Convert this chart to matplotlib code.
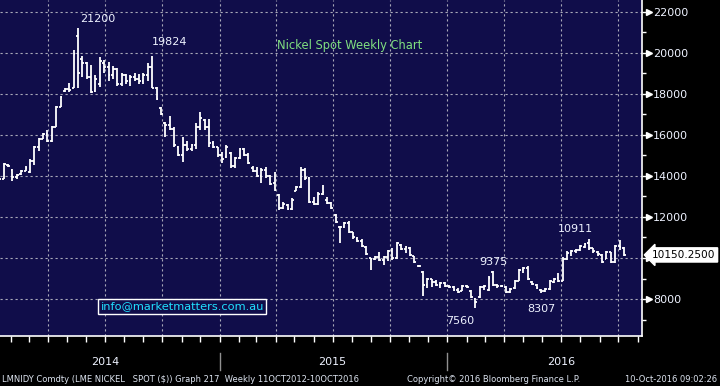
import matplotlib
matplotlib.use("Agg")
import matplotlib.pyplot as plt
import matplotlib.dates as mdates
import matplotlib.transforms as mtransforms
import numpy as np
import pandas as pd

# ---------------- data (weekly OHLC, LME nickel spot) ----------------
opens = [13450, 13850, 14550, 14300, 13950, 14100, 14250, 14200, 14750, 15400,
         15800, 16050, 15700, 16400, 17350, 18150, 18250, 18300, 20800, 19700,
         19500, 18800, 18150, 18500, 19500, 19300, 18900, 19200, 18500, 18900,
         18600, 18800, 18700, 18600, 18900, 19300, 18300, 17300, 16600, 16500,
         16300, 15400, 15000, 15500, 15300, 15500, 16400, 16700, 16400, 15600,
         15400, 15000, 14900, 15100, 14500, 14850, 15300, 15000, 14400, 14250,
         14000, 14300, 14000, 13650, 13050, 12450, 12600, 12400, 13250, 13450,
         14300, 13900, 12750, 12650, 13100, 12850, 12700, 12100, 11500, 11500,
         11700, 11250, 10950, 10850, 10550, 10000, 9950, 10050, 9900, 10050,
         10350, 10000, 10650, 10450, 10500, 10100, 9600, 9300, 8700, 9000,
         8850, 8700, 8800, 8650, 8600, 8450, 8400, 8650, 8400, 8000,
         8100, 8600, 8450, 9300, 8700, 8650, 8600, 8350, 8550, 8900,
         9400, 9500, 8850, 8700, 8450, 8400, 8500, 8850, 9050, 8900,
         9950, 10250, 10350, 10400, 10550, 10750, 10500, 10300, 10150, 9950,
         10300, 9800, 10600, 10500]
highs = [13850, 14650, 14600, 14350, 14100, 14300, 14500, 14800, 15450, 15850,
         16100, 16250, 16450, 17400, 17900, 18300, 18550, 20150, 21200, 19850,
         19550, 19400, 18900, 19800, 19650, 19550, 19350, 19250, 19000, 18950,
         18900, 19000, 18950, 19000, 19500, 19824, 18350, 17350, 16650, 16900,
         16400, 15450, 15900, 15700, 15550, 16600, 17100, 16750, 16750, 15700,
         15400, 15150, 15500, 15150, 14900, 15350, 15350, 15100, 14500, 14450,
         14400, 14450, 14050, 14200, 13100, 12750, 12650, 12900, 13500, 14450,
         14400, 13950, 12950, 13200, 13550, 12950, 12750, 12150, 11550, 11750,
         11800, 11250, 11000, 10950, 10600, 10000, 10100, 10300, 10100, 10400,
         10500, 10800, 10700, 10600, 10550, 10100, 9650, 9350, 9050, 9000,
         8950, 8850, 8850, 8700, 8650, 8550, 8700, 8700, 8450, 8050,
         8620, 8700, 9110, 9375, 8720, 8700, 8620, 8550, 8950, 9450,
         9550, 9600, 8870, 8750, 8470, 8550, 8950, 9050, 9270, 10050,
         10320, 10400, 10450, 10650, 10750, 10911, 10500, 10350, 10200, 10350,
         10300, 10650, 10900, 10550]
lows = [13400, 13850, 14450, 13750, 13850, 14050, 14250, 14150, 14550, 15200,
        15800, 15650, 15650, 16400, 17350, 18100, 18100, 18300, 18300, 18800,
        18700, 18050, 18100, 18350, 19000, 18600, 18700, 18400, 18400, 18500,
        18400, 18600, 18500, 18500, 18600, 18300, 17700, 16950, 15900, 16250,
        15400, 14950, 14700, 15200, 15200, 15300, 16250, 16250, 15400, 15350,
        14900, 14650, 14850, 14400, 14400, 14800, 14950, 14600, 14200, 13950,
        13650, 13900, 13550, 13250, 12350, 12400, 12350, 12350, 13250, 13400,
        13800, 12700, 12600, 12600, 13050, 12650, 12400, 11700, 10750, 11450,
        11200, 10950, 10800, 10550, 10150, 9400, 9900, 9850, 9650, 9850,
        9900, 9950, 10400, 10250, 10100, 9750, 9550, 8150, 8550, 8600,
        8650, 8550, 8600, 8550, 8400, 8300, 8400, 8550, 8050, 7560,
        8050, 8450, 8380, 8620, 8550, 8600, 8300, 8300, 8500, 8900,
        9250, 8950, 8700, 8500, 8307, 8350, 8450, 8800, 8850, 8900,
        9900, 10100, 10250, 10350, 10500, 10400, 10250, 10100, 9750, 9950,
        9750, 9750, 10400, 10100]
closes = [13850, 14600, 14500, 13950, 14050, 14250, 14400, 14750, 15400, 15800,
          16050, 15700, 16400, 17350, 17850, 18250, 18200, 19950, 19000, 19500,
          18800, 18100, 18700, 19600, 19300, 18900, 19200, 18500, 18900, 18600,
          18800, 18700, 18600, 18900, 19300, 18300, 17750, 17000, 16500, 16300,
          15500, 15000, 15500, 15300, 15500, 16400, 16800, 16400, 15600, 15400,
          15000, 14800, 15400, 14500, 14850, 15300, 15000, 14650, 14250, 14000,
          14300, 14000, 13600, 13300, 12450, 12650, 12400, 12850, 13450, 14300,
          13900, 12750, 12650, 13100, 13200, 12700, 12450, 11750, 11500, 11700,
          11250, 11000, 10850, 10600, 10200, 9950, 10050, 9900, 10050, 10350,
          10000, 10750, 10450, 10550, 10150, 9800, 9600, 8700, 9000, 8850,
          8700, 8800, 8650, 8600, 8450, 8350, 8650, 8600, 8100, 7850,
          8600, 8650, 9050, 8700, 8650, 8620, 8350, 8500, 8900, 9400,
          9500, 9000, 8750, 8550, 8400, 8500, 8900, 9000, 8900, 9950,
          10250, 10350, 10400, 10600, 10700, 10500, 10350, 10200, 9800, 10300,
          9800, 10600, 10550, 10150]

dates = pd.date_range("2014-01-13", periods=len(closes), freq="7D")

y_ticks = [8000, 10000, 12000, 14000, 16000, 18000, 20000, 22000]
year_labels = ["2014", "2015", "2016"]
last_price_label = "10150.2500"

# (label, bar index, anchored at high or low)
annotations = [("21200", 18, "high"), ("19824", 35, "high"),
               ("9375", 113, "high"), ("10911", 135, "high"),
               ("7560", 109, "low"), ("8307", 124, "low")]
# label offsets in pixels (style, not data)
ann_offsets = {"21200": (20, 4), "19824": (17, 9), "9375": (0, 4),
               "10911": (-14, 5), "7560": (-15, -8), "8307": (0, -11)}

# ---------------- figure ----------------
BG = "#100d4a"
TXT = "#eef2ff"
fig = plt.figure(figsize=(7.2, 3.86), dpi=100, facecolor="black")
ax = fig.add_axes([0, 1 - 336 / 386, 642 / 720, 336 / 386])
ax.set_facecolor(BG)

x = mdates.date2num(dates)
tw = 3.0  # tick width in days
ax.vlines(x, lows, highs, color="white", lw=1.3, zorder=3)
ax.hlines(opens, x - tw, x, color="white", lw=1.3, zorder=3)
ax.hlines(closes, x, x + tw, color="white", lw=1.3, zorder=3)

ax.set_xlim(mdates.date2num(pd.Timestamp("2014-01-14")),
            mdates.date2num(pd.Timestamp("2016-11-08")))
ax.set_ylim(6200, 22570)

# grid
ax.xaxis.set_major_locator(mdates.MonthLocator(bymonth=[1, 4, 7, 10]))
ax.xaxis.set_minor_locator(mdates.MonthLocator())
ax.xaxis.set_major_formatter(plt.NullFormatter())
ax.set_yticks(y_ticks)
ax.yaxis.set_minor_locator(matplotlib.ticker.MultipleLocator(1000))
ax.grid(True, which="major", color="#a8a8b8", lw=0.8, ls=(0, (2, 2.5)))
ax.set_axisbelow(True)

for s in ["top", "left"]:
    ax.spines[s].set_visible(False)
for s in ["bottom", "right"]:
    ax.spines[s].set_color("white")
    ax.spines[s].set_linewidth(1.2)

ax.yaxis.tick_right()
ax.tick_params(axis="y", which="major", colors="white", length=6, width=1,
               labelsize=8, labelcolor=TXT, pad=2)
ax.tick_params(axis="y", which="minor", colors="white", length=3, width=1)
ax.tick_params(axis="x", which="both", colors="white", length=4, width=1,
               direction="out")
# the 10000 label sits under the last-price box in the reference
ax.yaxis.set_major_formatter(matplotlib.ticker.FuncFormatter(
    lambda v, p: "" if abs(v - 10000) < 1 else f"{int(v)}"))

# triangle tick markers on right axis
tri_tr = mtransforms.blended_transform_factory(ax.transAxes, ax.transData) + \
    mtransforms.ScaledTranslation(5 / 72, 0, fig.dpi_scale_trans)
ax.plot([1.0] * len(y_ticks), y_ticks, marker=">", ms=4, color="white",
        ls="none", transform=tri_tr, clip_on=False, zorder=5)

# last price box
ax.annotate(last_price_label, xy=(1.0, closes[-1]),
            xycoords=("axes fraction", "data"),
            xytext=(10, 0), textcoords="offset pixels",
            ha="left", va="center", fontsize=7.6, color="black",
            bbox=dict(boxstyle="larrow,pad=0.2", fc="white", ec="white"),
            annotation_clip=False, zorder=10)

# value annotations
for label, idx, kind in annotations:
    dx, dy = ann_offsets[label]
    if kind == "high":
        ax.annotate(label, xy=(x[idx], highs[idx]), xytext=(dx, dy),
                    textcoords="offset pixels", ha="center", va="bottom",
                    fontsize=8, color=TXT)
    else:
        ax.annotate(label, xy=(x[idx], lows[idx]), xytext=(dx, dy),
                    textcoords="offset pixels", ha="center", va="top",
                    fontsize=8, color=TXT)

# title inside plot
ax.text(0.545, 0.865, "Nickel Spot Weekly Chart", transform=ax.transAxes,
        ha="center", va="center", fontsize=8.3, color="#80e080")

# email box
ax.text(0.284, 0.088, "info@marketmatters.com.au", transform=ax.transAxes,
        ha="center", va="center", fontsize=8.2, color="#20e0ff",
        bbox=dict(boxstyle="square,pad=0.2", fc=BG, ec="white", lw=1))

# year labels & separators
fig_tr = mtransforms.blended_transform_factory(ax.transData, fig.transFigure)
for yr in year_labels:
    mid = mdates.date2num(pd.Timestamp(f"{yr}-07-01"))
    ax.text(mid, 1 - 362 / 386, yr, transform=fig_tr, ha="center",
            va="center", fontsize=8, color=TXT)
for yr in year_labels[1:]:
    xd = mdates.date2num(pd.Timestamp(f"{yr}-01-01"))
    ax.plot([xd, xd], [1 - 353 / 386, 1 - 370 / 386], color="#909090",
            lw=1, transform=fig_tr, clip_on=False)

# footer
fy = 1 - 379 / 386
fig.text(2 / 720, fy, "LMNIDY Comdty (LME NICKEL   SPOT ($)) Graph 217  Weekly 11OCT2012-10OCT2016",
         ha="left", va="center", fontsize=6, color="#dde4f0")
fig.text(407 / 720, fy, "Copyright\u00a9 2016 Bloomberg Finance L.P.",
         ha="left", va="center", fontsize=6, color="#dde4f0")
fig.text(717 / 720, fy, "10-Oct-2016 09:02:26",
         ha="right", va="center", fontsize=6, color="#dde4f0")

fig.savefig("out.png", dpi=100, facecolor="black")
